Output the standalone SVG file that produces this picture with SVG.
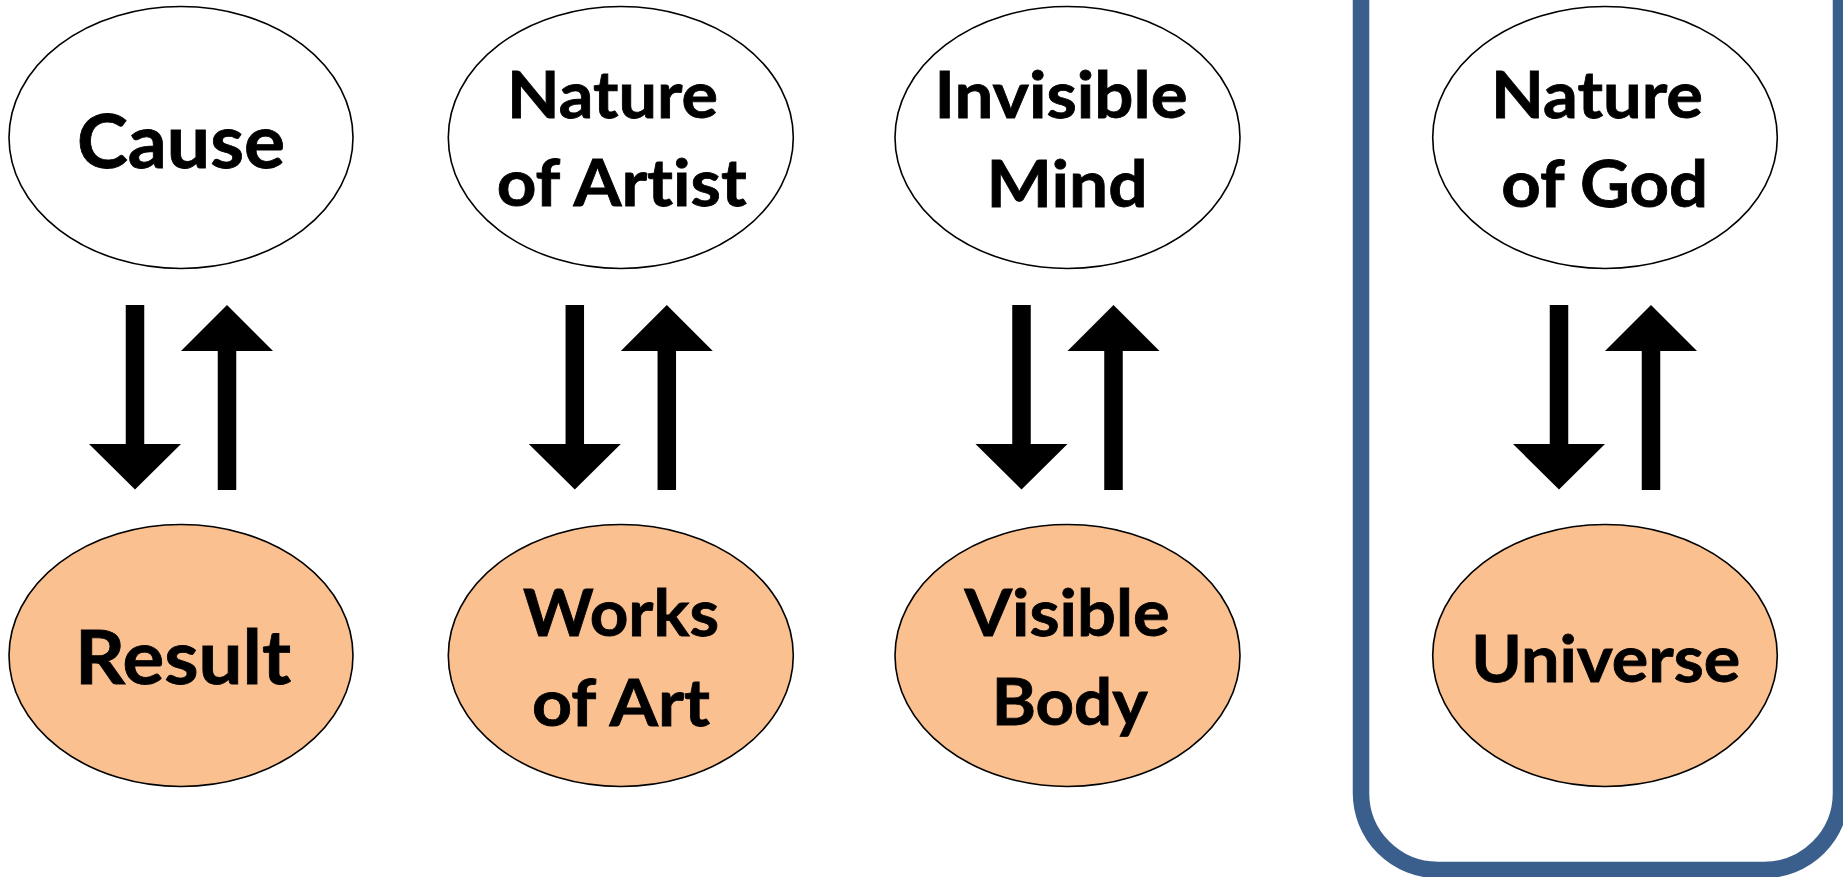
<svg xmlns="http://www.w3.org/2000/svg" xmlns:xlink="http://www.w3.org/1999/xlink" width="1843" height="877" viewBox="0 0 1843 877">
<style>
.top{fill:#FFFFFF;stroke:#000000;stroke-width:1.6}
.bot{fill:#FAC090;stroke:#000000;stroke-width:1.6}
.lbl{font-family:Lato,"Open Sans","Liberation Sans",sans-serif;font-weight:bold;fill:#000000;text-anchor:middle;font-variant-ligatures:none;font-feature-settings:"liga" 0,"clig" 0;stroke:#000000;stroke-width:0.8}
.big{font-size:75px}
.med{font-size:65px}
.arr{fill:#000000}
</style>
<defs>
<g id="pair">
<polygon class="arr" points="-55.25,305 -36.75,305 -36.75,444 0,444 -46,489.5 -92,444 -55.25,444"/>
<polygon class="arr" points="46,305 92,351 55.25,351 55.25,490 36.75,490 36.75,351 0,351"/>
</g>
</defs>
<rect id="frame" x="1361" y="-100" width="480" height="970" rx="77" ry="77" fill="none" stroke="#3B5F8D" stroke-width="16.5"/>
<g id="connectors">
<use xlink:href="#pair" transform="translate(181,0)"/>
<use xlink:href="#pair" transform="translate(620.8,0)"/>
<use xlink:href="#pair" transform="translate(1067.5,0)"/>
<use xlink:href="#pair" transform="translate(1605,0)"/>
</g>
<g id="cause">
<ellipse class="top" cx="181" cy="137.5" rx="172" ry="131"/>
<text class="lbl big" x="181" y="167.7" textLength="208" lengthAdjust="spacingAndGlyphs">Cause</text>
</g>
<g id="result">
<ellipse class="bot" cx="181" cy="655.5" rx="172" ry="131"/>
<text class="lbl big" x="183" y="684.3" textLength="216" lengthAdjust="spacingAndGlyphs">Result</text>
</g>
<g id="nature-of-artist">
<ellipse class="top" cx="620.8" cy="137.5" rx="172.5" ry="131"/>
<text class="lbl med" x="612.5" y="118.3" textLength="211" lengthAdjust="spacingAndGlyphs">Nature</text>
<text class="lbl med" x="621.7" y="206" textLength="250" lengthAdjust="spacingAndGlyphs">of Artist</text>
</g>
<g id="works-of-art">
<ellipse class="bot" cx="620.8" cy="655.5" rx="172.5" ry="131"/>
<text class="lbl med" x="621" y="636" textLength="196" lengthAdjust="spacingAndGlyphs">Works</text>
<text class="lbl med" x="621" y="726" textLength="178" lengthAdjust="spacingAndGlyphs">of Art</text>
</g>
<g id="invisible-mind">
<ellipse class="top" cx="1067.5" cy="137.5" rx="172.5" ry="131"/>
<text class="lbl med" x="1061" y="118.3" textLength="253" lengthAdjust="spacingAndGlyphs">Invisible</text>
<text class="lbl med" x="1067" y="207.3" textLength="161" lengthAdjust="spacingAndGlyphs">Mind</text>
</g>
<g id="visible-body">
<ellipse class="bot" cx="1067.5" cy="655.5" rx="172.5" ry="131"/>
<text class="lbl med" x="1067" y="636" textLength="205" lengthAdjust="spacingAndGlyphs">Visible</text>
<text class="lbl med" x="1069.7" y="725" textLength="156" lengthAdjust="spacingAndGlyphs">Body</text>
</g>
<g id="nature-of-god">
<ellipse class="top" cx="1605" cy="137.5" rx="172.3" ry="131"/>
<text class="lbl med" x="1597" y="118.3" textLength="212" lengthAdjust="spacingAndGlyphs">Nature</text>
<text class="lbl med" x="1604.7" y="207.3" textLength="207" lengthAdjust="spacingAndGlyphs">of God</text>
</g>
<g id="universe">
<ellipse class="bot" cx="1605" cy="655.5" rx="172.3" ry="131"/>
<text class="lbl med" x="1605.8" y="681.7" textLength="269" lengthAdjust="spacingAndGlyphs">Universe</text>
</g>
</svg>
